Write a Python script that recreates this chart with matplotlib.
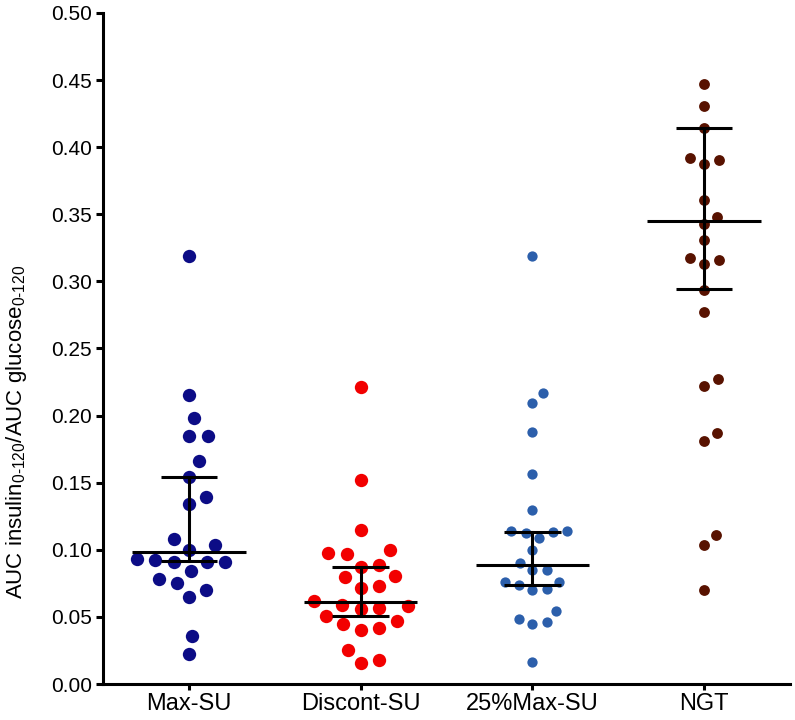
import numpy as np
import matplotlib
matplotlib.use('Agg')
import matplotlib.pyplot as plt

plt.rcParams['font.family'] = ['Liberation Sans', 'DejaVu Sans']

#data
groups = ['Max-SU', 'Discont-SU', '25%Max-SU', 'NGT']

max_su = [0.319, 0.2155, 0.1984, 0.185, 0.185, 0.166, 0.1543, 0.139, 0.134,
          0.1079, 0.1034, 0.0997, 0.0933, 0.0923, 0.091, 0.091, 0.091, 0.084,
          0.0786, 0.0749, 0.0699, 0.0645, 0.036, 0.0223]
discont_su = [0.221, 0.152, 0.1151, 0.0997, 0.0977, 0.0967, 0.0885, 0.0873,
              0.0804, 0.0794, 0.0729, 0.0719, 0.0615, 0.059, 0.058, 0.0568,
              0.0558, 0.0508, 0.0469, 0.0449, 0.0419, 0.0404, 0.0253, 0.0179,
              0.0154]
max25_su = [0.319, 0.2168, 0.2093, 0.1878, 0.1563, 0.13, 0.1138, 0.1138,
            0.1133, 0.1126, 0.1091, 0.0997, 0.0903, 0.0848, 0.0848, 0.0761,
            0.0761, 0.0741, 0.0707, 0.0699, 0.0545, 0.0488, 0.0463, 0.0446,
            0.0161]
ngt = [0.447, 0.4308, 0.4142, 0.3917, 0.3906, 0.3874, 0.3609, 0.3482, 0.3428,
       0.3311, 0.3172, 0.316, 0.313, 0.2939, 0.2771, 0.2272, 0.2222, 0.1872,
       0.1808, 0.1109, 0.1039, 0.0699]

medians = [0.098, 0.061, 0.089, 0.345]
q1 = [0.0915, 0.051, 0.074, 0.294]
q3 = [0.154, 0.087, 0.113, 0.414]

colors = ['#0c0c86', '#f20000', '#2c5fab', '#581200']
dot_sizes = [9.6, 9.6, 7.4, 7.8]


def swarm(vals, d, ppx, ppy):
    # place dots nearest to the centre without overlapping (pixel space)
    order = np.argsort(vals)
    placed = []
    offs = np.zeros(len(vals))
    for i in order:
        y = vals[i] * ppy
        cands = [0.0]
        for (px, py) in placed:
            dy = abs(py - y)
            if dy < d:
                dx = np.sqrt(d ** 2 - dy ** 2)
                cands += [px + dx, px - dx]
        cands.sort(key=lambda c: (abs(c), -c))
        for c in cands:
            ok = True
            for (px, py) in placed:
                if (px - c) ** 2 + (py - y) ** 2 < d ** 2 - 1e-6:
                    ok = False
                    break
            if ok:
                break
        placed.append((c, y))
        offs[i] = c / ppx
    return offs


fig = plt.figure(figsize=(7.95, 7.2), dpi=100)
ax = fig.add_axes([0.1296, 0.05, 0.8641, 0.932])
ax.set_xlim(-0.5, 3.5)
ax.set_ylim(0, 0.5)

p0 = ax.transData.transform((0, 0))
p1 = ax.transData.transform((1, 1))
ppx = p1[0] - p0[0]
ppy = p1[1] - p0[1]

data = [max_su, discont_su, max25_su, ngt]
for i, vals in enumerate(data):
    vals = np.array(vals)
    d_px = dot_sizes[i] / 72 * 100
    offs = swarm(vals, d_px * 1.4, ppx, ppy)
    ax.plot(i + offs, vals, 'o', color=colors[i], ms=dot_sizes[i],
            mew=0, zorder=3, clip_on=False)

    # median with interquartile range
    ax.plot([i - 0.33, i + 0.33], [medians[i], medians[i]], color='black',
            lw=2.2, zorder=4, solid_capstyle='butt')
    ax.plot([i, i], [q1[i], q3[i]], color='black', lw=2.2, zorder=4)
    for q in (q1[i], q3[i]):
        ax.plot([i - 0.165, i + 0.165], [q, q], color='black', lw=2.2,
                zorder=4, solid_capstyle='butt')

for s in ['top', 'right']:
    ax.spines[s].set_visible(False)
for s in ['left', 'bottom']:
    ax.spines[s].set_linewidth(2.2)

ax.set_xticks(range(len(groups)))
ax.set_xticklabels(groups, fontsize=17)
ax.set_yticks(np.arange(0, 0.51, 0.05))
ax.set_yticklabels(['%.2f' % v for v in np.arange(0, 0.51, 0.05)], fontsize=15)
ax.tick_params(axis='y', length=5, width=2.2, pad=3)
ax.tick_params(axis='x', length=4.5, width=2.2, pad=2)

ax.set_ylabel('AUC insulin$_{\\mathregular{0\u2010120}}$/AUC glucose$_{\\mathregular{0\u2010120}}$',
              fontsize=16)
ax.yaxis.set_label_coords(-0.108, 0.376)

fig.savefig('out.png', dpi=100)
